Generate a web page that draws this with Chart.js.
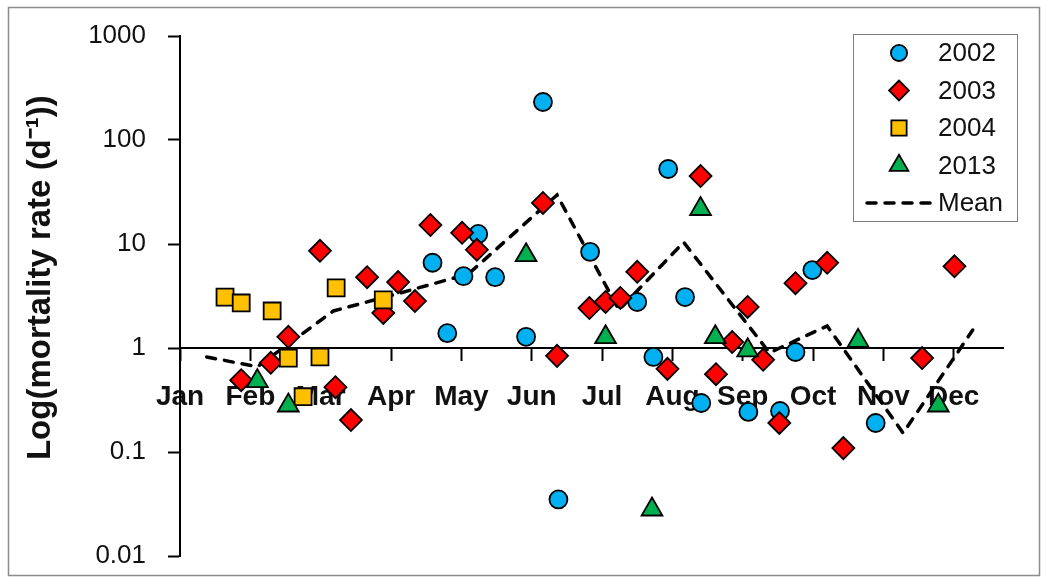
<!DOCTYPE html>
<html>
<head>
<meta charset="utf-8">
<title>Mortality rate</title>
<script src="https://cdn.jsdelivr.net/npm/chart.js@4.4.0/dist/chart.umd.min.js"></script>
<style>
    html, body { margin: 0; padding: 0; background: #fff; }
    #wrap { position: relative; width: 1047px; height: 582px; }
</style>
</head>
<body>
<div id="wrap"><canvas id="grafico" width="1047" height="582"></canvas></div>
<script>
// Eixo x em meses (0 = Jan), eixo y logarítmico
const meses = ['Jan', 'Feb', 'Mar', 'Apr', 'May', 'Jun', 'Jul', 'Aug', 'Sep', 'Oct', 'Nov', 'Dec'];
const posMeses = [0, 1, 2, 3, 4, 5, 6, 7, 8, 9, 10, 11];
const ticksY = [0.01, 0.1, 1, 10, 100, 1000];
const rotulosY = ['0.01', '0.1', '1', '10', '100', '1000'];

// 2002
const x2002 = [3.59, 3.80, 4.03, 4.24, 4.48, 4.92, 5.16, 5.38, 5.83, 6.50, 6.73, 6.94, 7.18, 7.41, 8.08, 8.53, 8.75, 8.99, 9.89];
const y2002 = [6.6, 1.39, 4.9, 12.5, 4.8, 1.28, 232, 0.035, 8.4, 2.77, 0.82, 52.6, 3.09, 0.296, 0.243, 0.248, 0.915, 5.62, 0.19];

// 2003
const x2003 = [0.87, 1.29, 1.54, 1.99, 2.21, 2.43, 2.66, 2.89, 3.10, 3.34, 3.56, 4.01, 4.22, 5.16, 5.36, 5.82, 6.05, 6.26, 6.50, 6.93, 7.40, 7.62, 7.85, 8.07, 8.29, 8.52, 8.75, 9.20, 9.43, 10.55, 11.01];
const y2003 = [0.49, 0.72, 1.28, 8.6, 0.42, 0.203, 4.8, 2.17, 4.3, 2.83, 15.2, 12.8, 8.8, 24.8, 0.84, 2.42, 2.77, 3.03, 5.4, 0.63, 45, 0.56, 1.14, 2.48, 0.77, 0.19, 4.2, 6.6, 0.109, 0.80, 6.1];

// 2004
const x2004 = [0.64, 0.87, 1.31, 1.54, 1.75, 1.99, 2.22, 2.89];
const y2004 = [3.09, 2.71, 2.27, 0.80, 0.34, 0.82, 3.78, 2.9];

// 2013
const x2013 = [1.10, 1.54, 4.92, 6.05, 6.71, 7.40, 7.61, 8.07, 9.64, 10.78];
const y2013 = [0.48, 0.28, 7.8, 1.27, 0.028, 21.7, 1.27, 0.95, 1.17, 0.28];

// média mensal
const xMedia = [0.38, 1.10, 2.18, 3.13, 4.10, 5.36, 6.24, 7.16, 8.38, 9.20, 10.28, 11.27];
const yMedia = [0.82, 0.66, 2.27, 3.38, 5.15, 29.6, 2.32, 10.4, 0.90, 1.63, 0.152, 1.49];

const pares = (xs, ys) => xs.map((x, i) => ({ x: x, y: ys[i] }));

const fonte = "'Liberation Sans', Arial, sans-serif";

// Legenda desenhada dentro da área do gráfico, a partir dos próprios datasets
const legendaInterna = {
    id: 'legendaInterna',
    afterDatasetsDraw(chart) {
        const ctx = chart.ctx;
        ctx.save();
        ctx.fillStyle = '#fff';
        ctx.fillRect(853, 34, 164, 187);
        ctx.strokeStyle = '#808080';
        ctx.lineWidth = 1;
        ctx.strokeRect(853.5, 34.5, 164, 187);

        chart.data.datasets.forEach((ds, i) => {
            const y = 53 + i * 37.5;
            if (ds.showLine) {
                ctx.strokeStyle = ds.borderColor;
                ctx.lineWidth = ds.borderWidth;
                ctx.lineCap = 'round';
                ctx.setLineDash(ds.borderDash);
                ctx.beginPath();
                ctx.moveTo(867, y);
                ctx.lineTo(931, y);
                ctx.stroke();
                ctx.setLineDash([]);
            } else {
                ctx.fillStyle = ds.backgroundColor;
                ctx.strokeStyle = ds.borderColor;
                ctx.lineWidth = ds.borderWidth;
                Chart.helpers.drawPoint(ctx, {
                    pointStyle: ds.pointStyle,
                    radius: ds.pointRadius * 0.9,
                    rotation: 0,
                    borderWidth: ds.borderWidth
                }, 899, y);
            }
            ctx.fillStyle = '#111';
            ctx.font = '26px ' + fonte;
            ctx.textAlign = 'left';
            ctx.textBaseline = 'middle';
            ctx.fillText(ds.label, 938, y + 1);
        });
        ctx.restore();
    },
    afterDraw(chart) {
        // moldura cinza em volta do gráfico
        const ctx = chart.ctx;
        ctx.save();
        ctx.strokeStyle = '#8c8c8c';
        ctx.lineWidth = 1.5;
        ctx.strokeRect(8.5, 7.5, 1031, 568);
        ctx.restore();
    }
};

function serie(label, xs, ys, cor, estilo, raio) {
    return {
        label: label,
        data: pares(xs, ys),
        backgroundColor: cor,
        borderColor: '#000',
        borderWidth: 1.8,
        pointStyle: estilo,
        pointRadius: raio,
        pointHoverRadius: raio,
        showLine: false
    };
}

const ctxGrafico = document.getElementById('grafico').getContext('2d');
new Chart(ctxGrafico, {
    type: 'scatter',
    data: {
        datasets: [
            Object.assign(serie('2002', x2002, y2002, '#00B0F0', 'circle', 9), { order: 4 }),
            Object.assign(serie('2003', x2003, y2003, '#FF0000', 'rectRot', 11), { order: 3 }),
            Object.assign(serie('2004', x2004, y2004, '#FFC000', 'rect', 12), { order: 2 }),
            Object.assign(serie('2013', x2013, y2013, '#00B050', 'triangle', 12), { order: 1 }),
            {
                label: 'Mean',
                data: pares(xMedia, yMedia),
                showLine: true,
                borderColor: '#000',
                borderWidth: 3.5,
                borderDash: [9, 9],
                borderCapStyle: 'round',
                pointRadius: 0,
                tension: 0,
                order: 5
            }
        ]
    },
    options: {
        responsive: false,
        animation: false,
        layout: { padding: { top: 36, right: 44, bottom: 26, left: 0 } },
        plugins: {
            legend: { display: false },
            tooltip: { enabled: false }
        },
        scales: {
            x: {
                type: 'linear',
                // eixo x cruza o eixo y no valor 1
                position: { y: 1 },
                min: 0,
                max: 11.7,
                afterBuildTicks: s => { s.ticks = posMeses.map(v => ({ value: v })); },
                grid: { drawOnChartArea: false, drawTicks: true, tickLength: 12, tickColor: '#000', tickWidth: 2 },
                border: { color: '#000', width: 2 },
                ticks: {
                    autoSkip: false,
                    maxRotation: 0,
                    padding: 20,
                    color: '#111',
                    font: { family: fonte, size: 28, weight: 'bold' },
                    callback: (v, i) => meses[i]
                }
            },
            y: {
                type: 'logarithmic',
                position: 'left',
                min: 0.01,
                max: 1000,
                afterFit: s => {
                    s.width = 180;
                    s.paddingTop = 0;
                    s.paddingBottom = 0;
                },
                afterBuildTicks: s => { s.ticks = ticksY.map(v => ({ value: v })); },
                grid: { drawOnChartArea: false, drawTicks: true, tickLength: 12, tickColor: '#000', tickWidth: 2 },
                border: { color: '#000', width: 2 },
                ticks: {
                    padding: 22,
                    color: '#111',
                    font: { family: fonte, size: 26 },
                    callback: (v, i) => rotulosY[i]
                },
                title: {
                    display: true,
                    text: '    Log(mortality rate (d\u207B\u00B9))',
                    color: '#111',
                    font: { family: fonte, size: 33, weight: 'bold' },
                    padding: { top: 21, bottom: 0 }
                }
            }
        }
    },
    plugins: [legendaInterna]
});
</script>
</body>
</html>
